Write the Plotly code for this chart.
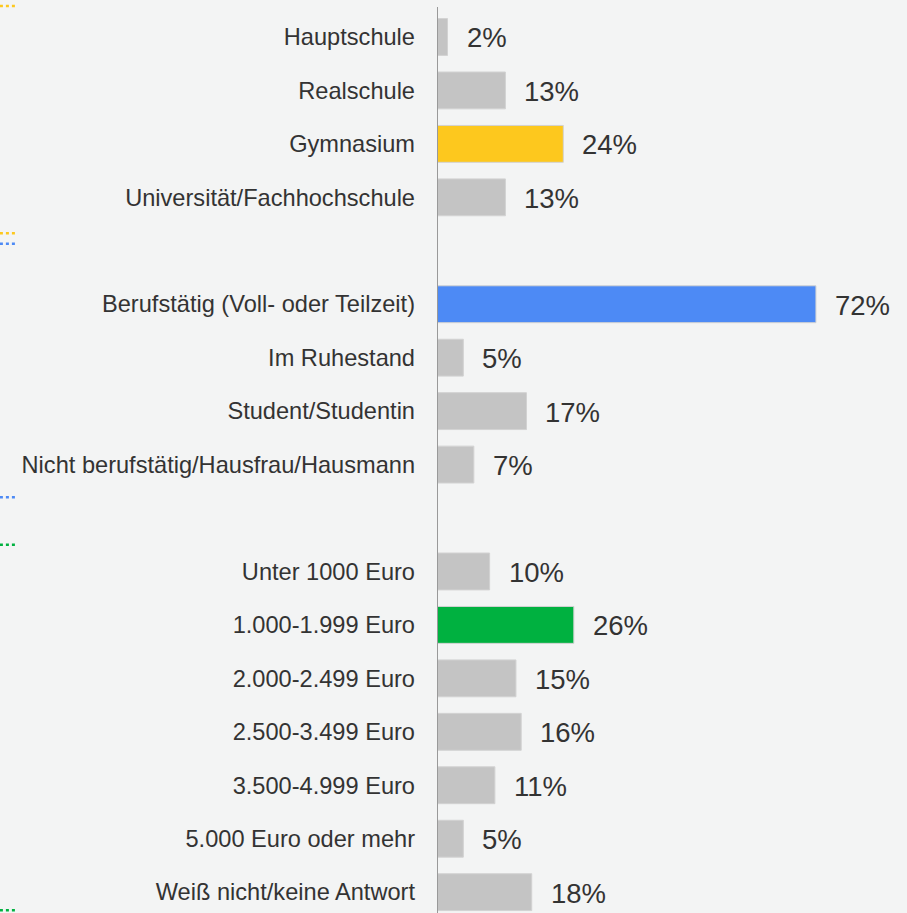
import plotly.graph_objects as go

# ---- data ----
categories = [
    "Hauptschule", "Realschule", "Gymnasium", "Universität/Fachhochschule",
    "",
    "Berufstätig (Voll- oder Teilzeit)", "Im Ruhestand", "Student/Studentin",
    "Nicht berufstätig/Hausfrau/Hausmann",
    " ",
    "Unter 1000 Euro", "1.000-1.999 Euro", "2.000-2.499 Euro", "2.500-3.499 Euro",
    "3.500-4.999 Euro", "5.000 Euro oder mehr", "Weiß nicht/keine Antwort",
]
values = [2, 13, 24, 13, None, 72, 5, 17, 7, None, 10, 26, 15, 16, 11, 5, 18]
highlight = {"Gymnasium": "#fdc81e",
             "Berufstätig (Voll- oder Teilzeit)": "#4d8af5",
             "1.000-1.999 Euro": "#00b140"}
GRAY = "#c4c4c4"
FONT = "Liberation Sans, Arial, sans-serif"

idx = list(range(len(categories)))
xs = [v if v is not None else 0 for v in values]
colors = [highlight.get(c, GRAY) for c in categories]

fig = go.Figure()
fig.add_trace(go.Bar(
    y=idx, x=xs, orientation="h",
    marker=dict(color=colors, line=dict(color="#d2d2d2", width=1)),
    width=0.69,
    hoverinfo="skip",
))

# value labels
for i, v in zip(idx, values):
    if v is None:
        continue
    fig.add_annotation(x=v, y=i, xref="x", yref="y", text=f"{v}%",
                       showarrow=False, xanchor="left", yanchor="middle",
                       xshift=17, yshift=-1,
                       font=dict(family=FONT, size=27.5, color="#333333"))

# vertical axis line
fig.add_shape(type="line", xref="x", yref="y", x0=0, x1=0, y0=-0.56, y1=16.6,
              line=dict(color="#999999", width=2))

# group markers at the left edge (dotted)
groups = [("#fdc81e", -0.58, 3.67), ("#4d8af5", 3.87, 8.61), ("#00b140", 9.5, 16.34)]
for col, a, b in groups:
    for yy in (a, b):
        fig.add_shape(type="line", xref="paper", yref="y",
                      x0=-0.93, x1=-0.893, y0=yy, y1=yy,
                      line=dict(color=col, width=2.5, dash="dot"))

fig.update_layout(
    width=907, height=913,
    margin=dict(l=437, r=0, t=0, b=0),
    paper_bgcolor="#f3f4f4", plot_bgcolor="rgba(0,0,0,0)",
    showlegend=False,
    font=dict(family=FONT, color="#333333"),
    xaxis=dict(range=[0, 89.3], visible=False, fixedrange=True),
    yaxis=dict(range=[16.39, -0.692], tickmode="array", tickvals=idx,
               ticktext=categories, ticks="", showgrid=False, zeroline=False,
               showline=False, automargin=False,
               tickfont=dict(size=23.6, color="#333333"), ticklabelstandoff=21),
)

fig.write_html("out.html",
               config={"displayModeBar": False},
               post_script="document.body.style.margin='0';"
                           "document.body.style.background='#f3f4f4';")
